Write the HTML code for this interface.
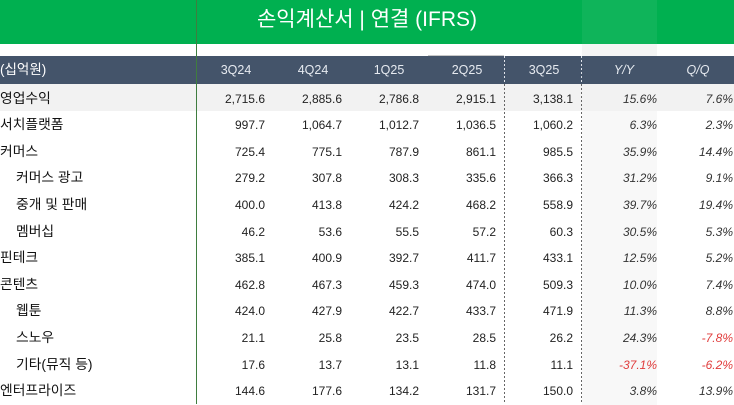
<!DOCTYPE html>
<html lang="ko">
<head>
<meta charset="utf-8">
<style>
  html,body{margin:0;padding:0;}
  body{width:734px;height:404px;overflow:hidden;background:#fff;position:relative;
       font-family:"Liberation Sans","Noto Sans CJK KR",sans-serif;}
  .abs{position:absolute;}
  .title{left:0;top:0;width:734px;height:44px;background:#00b050;color:#fff;
         font-size:21px;line-height:40px;text-align:center;
         font-family:"Liberation Sans","Noto Sans CJK KR",sans-serif;}
  .hdr{left:0;top:56px;width:734px;height:28px;background:#44546a;}
  .row{position:absolute;left:0;width:734px;height:26.6px;line-height:26.6px;}
  .lab{position:absolute;left:0;top:1.5px;font-size:13.8px;color:#111;
       font-family:"Liberation Sans","Noto Sans CJK KR",sans-serif;white-space:nowrap;}
  .lab.in{left:16px;}
  .n{position:absolute;top:1.5px;font-size:12px;color:#222;white-space:nowrap;text-align:right;}
  .p{font-style:italic;color:#333;}
  .r{color:#e03c3c;}
  .c1{right:469px}.c2{right:392px}.c3{right:315px}.c4{right:238px}.c5{right:161px}.c6{right:77px}.c7{right:1px}
  .h{position:absolute;top:56px;height:28px;line-height:28px;width:60px;text-align:center;
     color:#e6eaf0;font-size:12.5px;}
  .hi{font-style:italic;}
  .dotb{position:absolute;width:1px;top:84px;height:320px;
        background:repeating-linear-gradient(to bottom,#666 0,#666 2px,transparent 2px,transparent 4px);}
  .doth{position:absolute;width:1px;top:56px;height:28px;
        background:repeating-linear-gradient(to bottom,#dfe3ea 0,#dfe3ea 2px,transparent 2px,transparent 4px);}
</style>
</head>
<body>
  <div class="abs title">손익계산서 | 연결 (IFRS)</div>
  <div class="abs" style="left:582px;top:0;width:75px;height:44px;background:rgba(255,255,255,0.06);"></div>
  <div class="abs" style="left:582px;top:44px;width:75px;height:12px;background:#f5f5f5;"></div>
  <div class="abs" style="left:428px;top:55px;width:76px;height:1px;background:#c8c8c8;"></div>

  <div class="abs hdr"></div>
  <div class="abs" style="left:0;top:56px;height:28px;line-height:28px;color:#fff;font-size:13.5px;font-family:'Liberation Sans','Noto Sans CJK KR',sans-serif;">(십억원)</div>
  <div class="h" style="left:206px;">3Q24</div>
  <div class="h" style="left:283px;">4Q24</div>
  <div class="h" style="left:359px;">1Q25</div>
  <div class="h" style="left:437px;">2Q25</div>
  <div class="h" style="left:514px;">3Q25</div>
  <div class="h hi" style="left:594px;">Y/Y</div>
  <div class="h hi" style="left:668px;">Q/Q</div>

  <div class="abs" style="left:0;top:84px;width:734px;height:26.6px;background:#f2f2f2;"></div>
  <div class="abs" style="left:582px;top:110.6px;width:75px;height:294px;background:#f8f8f8;"></div>

  <div class="abs" style="left:196px;top:0;width:1px;height:404px;background:#3f7d3f;"></div>
  <div class="doth" style="left:504px;"></div>
  <div class="doth" style="left:581px;"></div>
  <div class="dotb" style="left:504px;"></div>
  <div class="dotb" style="left:581px;"></div>

  <div class="row" style="top:84px;">
    <span class="lab">영업수익</span>
    <span class="n c1">2,715.6</span><span class="n c2">2,885.6</span><span class="n c3">2,786.8</span><span class="n c4">2,915.1</span><span class="n c5">3,138.1</span><span class="n p c6">15.6%</span><span class="n p c7">7.6%</span>
  </div>
  <div class="row" style="top:110.6px;">
    <span class="lab">서치플랫폼</span>
    <span class="n c1">997.7</span><span class="n c2">1,064.7</span><span class="n c3">1,012.7</span><span class="n c4">1,036.5</span><span class="n c5">1,060.2</span><span class="n p c6">6.3%</span><span class="n p c7">2.3%</span>
  </div>
  <div class="row" style="top:137.2px;">
    <span class="lab">커머스</span>
    <span class="n c1">725.4</span><span class="n c2">775.1</span><span class="n c3">787.9</span><span class="n c4">861.1</span><span class="n c5">985.5</span><span class="n p c6">35.9%</span><span class="n p c7">14.4%</span>
  </div>
  <div class="row" style="top:163.8px;">
    <span class="lab in">커머스 광고</span>
    <span class="n c1">279.2</span><span class="n c2">307.8</span><span class="n c3">308.3</span><span class="n c4">335.6</span><span class="n c5">366.3</span><span class="n p c6">31.2%</span><span class="n p c7">9.1%</span>
  </div>
  <div class="row" style="top:190.4px;">
    <span class="lab in">중개 및 판매</span>
    <span class="n c1">400.0</span><span class="n c2">413.8</span><span class="n c3">424.2</span><span class="n c4">468.2</span><span class="n c5">558.9</span><span class="n p c6">39.7%</span><span class="n p c7">19.4%</span>
  </div>
  <div class="row" style="top:217px;">
    <span class="lab in">멤버십</span>
    <span class="n c1">46.2</span><span class="n c2">53.6</span><span class="n c3">55.5</span><span class="n c4">57.2</span><span class="n c5">60.3</span><span class="n p c6">30.5%</span><span class="n p c7">5.3%</span>
  </div>
  <div class="row" style="top:243.6px;">
    <span class="lab">핀테크</span>
    <span class="n c1">385.1</span><span class="n c2">400.9</span><span class="n c3">392.7</span><span class="n c4">411.7</span><span class="n c5">433.1</span><span class="n p c6">12.5%</span><span class="n p c7">5.2%</span>
  </div>
  <div class="row" style="top:270.2px;">
    <span class="lab">콘텐츠</span>
    <span class="n c1">462.8</span><span class="n c2">467.3</span><span class="n c3">459.3</span><span class="n c4">474.0</span><span class="n c5">509.3</span><span class="n p c6">10.0%</span><span class="n p c7">7.4%</span>
  </div>
  <div class="row" style="top:296.8px;">
    <span class="lab in">웹툰</span>
    <span class="n c1">424.0</span><span class="n c2">427.9</span><span class="n c3">422.7</span><span class="n c4">433.7</span><span class="n c5">471.9</span><span class="n p c6">11.3%</span><span class="n p c7">8.8%</span>
  </div>
  <div class="row" style="top:323.4px;">
    <span class="lab in">스노우</span>
    <span class="n c1">21.1</span><span class="n c2">25.8</span><span class="n c3">23.5</span><span class="n c4">28.5</span><span class="n c5">26.2</span><span class="n p c6">24.3%</span><span class="n p r c7">-7.8%</span>
  </div>
  <div class="row" style="top:350px;">
    <span class="lab in">기타(뮤직 등)</span>
    <span class="n c1">17.6</span><span class="n c2">13.7</span><span class="n c3">13.1</span><span class="n c4">11.8</span><span class="n c5">11.1</span><span class="n p r c6">-37.1%</span><span class="n p r c7">-6.2%</span>
  </div>
  <div class="row" style="top:376.6px;">
    <span class="lab">엔터프라이즈</span>
    <span class="n c1">144.6</span><span class="n c2">177.6</span><span class="n c3">134.2</span><span class="n c4">131.7</span><span class="n c5">150.0</span><span class="n p c6">3.8%</span><span class="n p c7">13.9%</span>
  </div>
</body>
</html>
